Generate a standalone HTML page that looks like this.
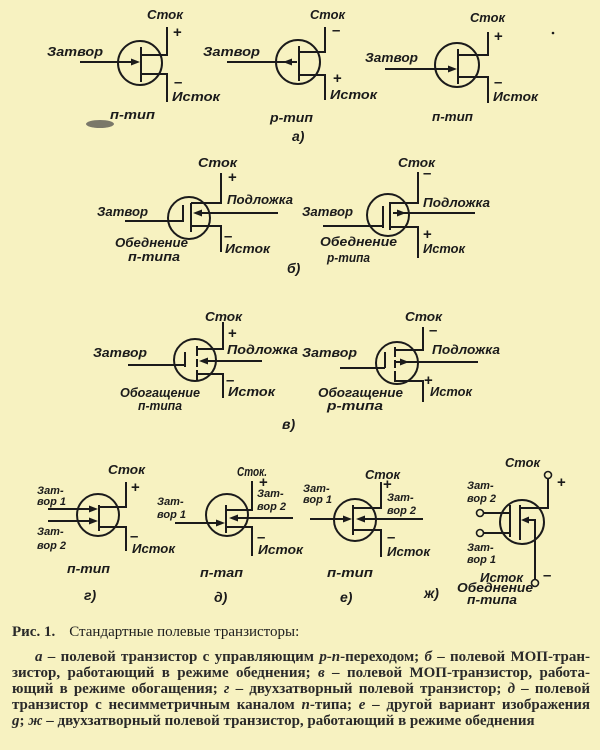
<!DOCTYPE html>
<html><head><meta charset="utf-8">
<style>
html,body{margin:0;padding:0;}
body{width:600px;height:750px;background:#f7f2c1;position:relative;overflow:hidden;}
svg{position:absolute;left:0;top:0;}
.l{font-family:"Liberation Sans","DejaVu Sans",sans-serif;font-weight:bold;font-style:italic;font-size:12.5px;fill:#1b1b1b;}
.s{font-size:11px;}
.p{font-family:"Liberation Sans",sans-serif;font-weight:bold;font-size:15px;fill:#1b1b1b;}
.cap{position:absolute;left:12px;width:578px;font-family:"Liberation Serif","DejaVu Serif",serif;font-size:15px;font-weight:bold;color:#2a2a2a;line-height:16px;}
.j{text-align:justify;text-align-last:justify;white-space:nowrap;}
</style></head><body>
<svg width="600" height="750" viewBox="0 0 600 750">
<g fill="none" stroke="#1b1b1b" stroke-width="2">
<circle cx="140" cy="63" r="22"/>
<path d="M141 47V82M80 62H133M141 55H167V27M141 74H167V102"/>
<circle cx="298" cy="62" r="22"/>
<path d="M299 46V81M227 62H297M299 52H325V27M299 75H325V100"/>
<circle cx="457" cy="65" r="22"/>
<path d="M458 49V84M385 69H450M458 55H488V32M458 77H488V103"/>
<circle cx="189" cy="218" r="21"/>
<path d="M125 221H183M183 205V222M191 203V232M191 203H221V173M200 213H278M191 226H221V252"/>
<circle cx="388" cy="215" r="21"/>
<path d="M323 226H383M383 206V228M390 202V230M390 203H418V172M393 213H475M390 227H418V258"/>
<circle cx="195" cy="360" r="21"/>
<path d="M128 365H185M185 352V367M197 346V356M197 359V367M197 370V380M197 349H223V322M206 361H262M197 374H223V398"/>
<circle cx="397" cy="363" r="21"/>
<path d="M340 368H385M385 352V368M395 347V357M395 360V368M395 371V382M395 350H423V327M395 362H478M395 381H423V402"/>
<circle cx="98" cy="515" r="21"/>
<path d="M48 509H92M48 521H92M99 505V531M99 507H126V482M99 527H126V551"/>
<circle cx="227" cy="515" r="21"/>
<path d="M175 523H220M226 505V533M293 518H236M226 510H252V481M226 527H252V556"/>
<circle cx="355" cy="520" r="21"/>
<path d="M310 519H346M353 505V535M423 519H364M353 508H381V482M353 530H381V557"/>
<circle cx="522" cy="522" r="22"/>
<path d="M548 479V508H520M510 505V537M520 505V540M484 513H510M484 533H510M528 520H535V580"/>
<circle cx="548" cy="475" r="3.5" stroke-width="1.6"/>
<circle cx="480" cy="513" r="3.5" stroke-width="1.6"/>
<circle cx="480" cy="533" r="3.5" stroke-width="1.6"/>
<circle cx="535" cy="583" r="3.5" stroke-width="1.6"/>
</g>
<g fill="#1b1b1b">
<polygon points="140,62 131,58.5 131,65.5"/>
<polygon points="283,62 292,58.5 292,65.5"/>
<polygon points="457,69 448,65.5 448,72.5"/>
<polygon points="193,213 202,209.5 202,216.5"/>
<polygon points="406,213 397,209.5 397,216.5"/>
<polygon points="199,361 208,357.5 208,364.5"/>
<polygon points="409,362 400,358.5 400,365.5"/>
<polygon points="98,509 89,505.5 89,512.5"/>
<polygon points="98,521 89,517.5 89,524.5"/>
<polygon points="225,523 216,519.5 216,526.5"/>
<polygon points="229,518 238,514.5 238,521.5"/>
<polygon points="352,519 343,515.5 343,522.5"/>
<polygon points="356,519 365,515.5 365,522.5"/>
<polygon points="521,520 529,516.5 529,523.5"/>
<ellipse cx="100" cy="124" rx="14" ry="4" fill="#444" opacity="0.7"/>
<circle cx="553" cy="33" r="1.3"/>
</g>
<g lengthAdjust="spacingAndGlyphs">
<text class="l" x="147" y="19" textLength="36" lengthAdjust="spacingAndGlyphs">Сток</text>
<text class="p" x="173" y="37">+</text>
<text class="l" x="47" y="56" textLength="56" lengthAdjust="spacingAndGlyphs">Затвор</text>
<text class="p" x="174" y="87">–</text>
<text class="l" x="172" y="101" textLength="48" lengthAdjust="spacingAndGlyphs">Исток</text>
<text class="l" x="110" y="119" textLength="45" lengthAdjust="spacingAndGlyphs">п-тип</text>
<text class="l" x="310" y="19" textLength="35" lengthAdjust="spacingAndGlyphs">Сток</text>
<text class="p" x="332" y="35">–</text>
<text class="l" x="203" y="56" textLength="57" lengthAdjust="spacingAndGlyphs">Затвор</text>
<text class="p" x="333" y="83">+</text>
<text class="l" x="330" y="99" textLength="47" lengthAdjust="spacingAndGlyphs">Исток</text>
<text class="l" x="270" y="122" textLength="43" lengthAdjust="spacingAndGlyphs">р-тип</text>
<text class="l" x="292" y="141" style="font-size:14px">а)</text>
<text class="l" x="470" y="22" textLength="35" lengthAdjust="spacingAndGlyphs">Сток</text>
<text class="p" x="494" y="41">+</text>
<text class="l" x="365" y="62" textLength="53" lengthAdjust="spacingAndGlyphs">Затвор</text>
<text class="p" x="494" y="87">–</text>
<text class="l" x="493" y="101" textLength="45" lengthAdjust="spacingAndGlyphs">Исток</text>
<text class="l" x="432" y="121" textLength="41" lengthAdjust="spacingAndGlyphs">п-тип</text>

<text class="l" x="198" y="167" textLength="39" lengthAdjust="spacingAndGlyphs">Сток</text>
<text class="p" x="228" y="182">+</text>
<text class="l" x="227" y="204" textLength="66" lengthAdjust="spacingAndGlyphs">Подложка</text>
<text class="l" x="97" y="216" textLength="51" lengthAdjust="spacingAndGlyphs">Затвор</text>
<text class="l" x="115" y="247" textLength="73" lengthAdjust="spacingAndGlyphs">Обеднение</text>
<text class="l" x="128" y="261" textLength="52" lengthAdjust="spacingAndGlyphs">п-типа</text>
<text class="p" x="224" y="241">–</text>
<text class="l" x="225" y="253" textLength="45" lengthAdjust="spacingAndGlyphs">Исток</text>
<text class="l" x="287" y="273" style="font-size:14px">б)</text>
<text class="l" x="398" y="167" textLength="37" lengthAdjust="spacingAndGlyphs">Сток</text>
<text class="p" x="423" y="178">–</text>
<text class="l" x="423" y="207" textLength="67" lengthAdjust="spacingAndGlyphs">Подложка</text>
<text class="l" x="302" y="216" textLength="51" lengthAdjust="spacingAndGlyphs">Затвор</text>
<text class="l" x="320" y="246" textLength="77" lengthAdjust="spacingAndGlyphs">Обеднение</text>
<text class="l" x="327" y="262" textLength="43" lengthAdjust="spacingAndGlyphs">р-типа</text>
<text class="p" x="423" y="239">+</text>
<text class="l" x="423" y="253" textLength="42" lengthAdjust="spacingAndGlyphs">Исток</text>

<text class="l" x="205" y="321" textLength="37" lengthAdjust="spacingAndGlyphs">Сток</text>
<text class="p" x="228" y="338">+</text>
<text class="l" x="227" y="354" textLength="71" lengthAdjust="spacingAndGlyphs">Подложка</text>
<text class="l" x="93" y="357" textLength="54" lengthAdjust="spacingAndGlyphs">Затвор</text>
<text class="l" x="120" y="397" textLength="80" lengthAdjust="spacingAndGlyphs">Обогащение</text>
<text class="l" x="138" y="410" textLength="44" lengthAdjust="spacingAndGlyphs">п-типа</text>
<text class="p" x="226" y="385">–</text>
<text class="l" x="228" y="396" textLength="47" lengthAdjust="spacingAndGlyphs">Исток</text>
<text class="l" x="405" y="321" textLength="37" lengthAdjust="spacingAndGlyphs">Сток</text>
<text class="p" x="429" y="335">–</text>
<text class="l" x="432" y="354" textLength="68" lengthAdjust="spacingAndGlyphs">Подложка</text>
<text class="l" x="302" y="357" textLength="55" lengthAdjust="spacingAndGlyphs">Затвор</text>
<text class="l" x="318" y="397" textLength="85" lengthAdjust="spacingAndGlyphs">Обогащение</text>
<text class="l" x="327" y="410" textLength="56" lengthAdjust="spacingAndGlyphs">р-типа</text>
<text class="p" x="424" y="385">+</text>
<text class="l" x="430" y="396" textLength="42" lengthAdjust="spacingAndGlyphs">Исток</text>
<text class="l" x="282" y="429" style="font-size:14px">в)</text>

<text class="l" x="108" y="474" textLength="37" lengthAdjust="spacingAndGlyphs">Сток</text>
<text class="p" x="131" y="492">+</text>
<text class="l s" x="37" y="494">Зат-</text>
<text class="l s" x="37" y="505">вор 1</text>
<text class="l s" x="37" y="535">Зат-</text>
<text class="l s" x="37" y="549">вор 2</text>
<text class="p" x="130" y="541">–</text>
<text class="l" x="132" y="553" textLength="43" lengthAdjust="spacingAndGlyphs">Исток</text>
<text class="l" x="67" y="573" textLength="43" lengthAdjust="spacingAndGlyphs">п-тип</text>
<text class="l" x="84" y="600" style="font-size:14px">г)</text>
<text class="l" x="237" y="476" textLength="30" lengthAdjust="spacingAndGlyphs">Сток.</text>
<text class="p" x="259" y="487">+</text>
<text class="l s" x="257" y="497">Зат-</text>
<text class="l s" x="257" y="510">вор 2</text>
<text class="l s" x="157" y="505">Зат-</text>
<text class="l s" x="157" y="518">вор 1</text>
<text class="p" x="257" y="542">–</text>
<text class="l" x="258" y="554" textLength="45" lengthAdjust="spacingAndGlyphs">Исток</text>
<text class="l" x="200" y="577" textLength="43" lengthAdjust="spacingAndGlyphs">п-тап</text>
<text class="l" x="214" y="602" style="font-size:14px">д)</text>
<text class="l" x="365" y="479" textLength="35" lengthAdjust="spacingAndGlyphs">Сток</text>
<text class="p" x="383" y="489">+</text>
<text class="l s" x="387" y="501">Зат-</text>
<text class="l s" x="387" y="514">вор 2</text>
<text class="l s" x="303" y="492">Зат-</text>
<text class="l s" x="303" y="503">вор 1</text>
<text class="p" x="387" y="542">–</text>
<text class="l" x="387" y="556" textLength="43" lengthAdjust="spacingAndGlyphs">Исток</text>
<text class="l" x="327" y="577" textLength="46" lengthAdjust="spacingAndGlyphs">п-тип</text>
<text class="l" x="340" y="602" style="font-size:14px">е)</text>
<text class="l" x="505" y="467" textLength="35" lengthAdjust="spacingAndGlyphs">Сток</text>
<text class="p" x="557" y="487">+</text>
<text class="l s" x="467" y="489">Зат-</text>
<text class="l s" x="467" y="502">вор 2</text>
<text class="l s" x="467" y="551">Зат-</text>
<text class="l s" x="467" y="563">вор 1</text>
<text class="p" x="543" y="580">–</text>
<text class="l" x="480" y="582" textLength="43" lengthAdjust="spacingAndGlyphs">Исток</text>
<text class="l" x="457" y="592" textLength="76" lengthAdjust="spacingAndGlyphs">Обеднение</text>
<text class="l" x="467" y="604" textLength="50" lengthAdjust="spacingAndGlyphs">п-типа</text>
<text class="l" x="424" y="598" style="font-size:14px">ж)</text>
</g>
</svg>
<div class="cap" style="top:624px;"><b>Рис. 1.</b><span style="margin-left:14px;font-weight:normal;color:#1e1e1e">Стандартные полевые транзисторы:</span></div>
<div class="cap j" style="top:649px;left:35px;width:555px;"><i>а</i> – полевой транзистор с управляющим <i>р-п</i>-переходом; <i>б</i> – полевой МОП-тран-</div>
<div class="cap j" style="top:665px;">зистор, работающий в режиме обеднения; <i>в</i> – полевой МОП-транзистор, работа-</div>
<div class="cap j" style="top:681px;">ющий в режиме обогащения; <i>г</i> – двухзатворный полевой транзистор; <i>д</i> – полевой</div>
<div class="cap j" style="top:697px;">транзистор с несимметричным каналом <i>п</i>-типа; <i>е</i> – другой вариант изображения</div>
<div class="cap" style="top:713px;white-space:nowrap;"><i>g</i>; <i>ж</i> – двухзатворный полевой транзистор, работающий в режиме обеднения</div>
</body></html>
